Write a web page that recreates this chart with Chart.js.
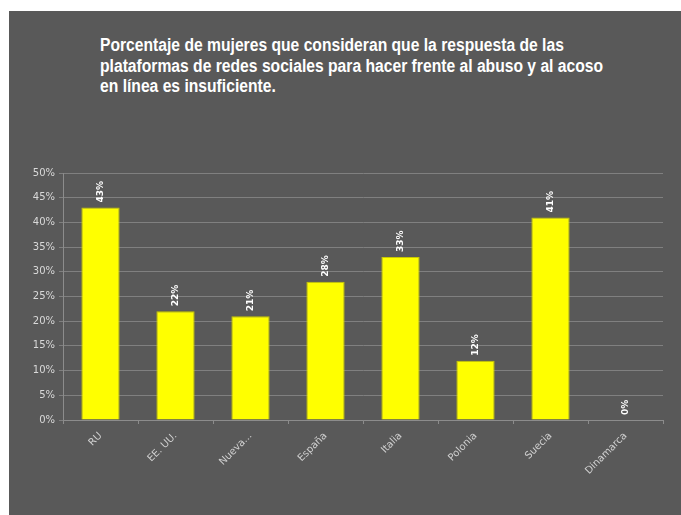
<!DOCTYPE html>
<html>
<head>
<meta charset="utf-8">
<script src="https://cdn.jsdelivr.net/npm/chart.js@4"></script>
<style>
  html, body { margin: 0; padding: 0; background: #ffffff; }
  #wrap { position: relative; width: 681px; height: 515px; }
  #panel { position: absolute; left: 9px; top: 11px; width: 672px; height: 504px; background: #595959; }
  #title {
    position: absolute; left: 100px; top: 35px; white-space: nowrap;
    font-family: "Liberation Sans Narrow", "Arial Narrow", "Liberation Sans", sans-serif;
    font-weight: bold; font-size: 18px; line-height: 20.5px; color: #ffffff;
    transform: scaleX(0.87); transform-origin: left top;
  }
  canvas { position: absolute; left: 0; top: 0; }
</style>
</head>
<body>
<div id="wrap">
  <div id="panel"></div>
  <div id="title">Porcentaje de mujeres que consideran que la respuesta de las<br>plataformas de redes sociales para hacer frente al abuso y al acoso<br>en línea es insuficiente.</div>
  <canvas id="myBarChart" width="681" height="515"></canvas>
</div>
<script>
// datos
const paises = ['RU', 'EE. UU.', 'Nueva...', 'España', 'Italia', 'Polonia', 'Suecia', 'Dinamarca'];
const porcentajes = [43, 22, 21, 28, 33, 12, 41, 0];
const ticksY = [0, 5, 10, 15, 20, 25, 30, 35, 40, 45, 50];

// etiquetas de valor giradas encima de cada barra
const etiquetasValor = {
    id: 'etiquetasValor',
    afterDatasetsDraw(chart) {
        const ctx = chart.ctx;
        const meta = chart.getDatasetMeta(0);
        ctx.save();
        ctx.fillStyle = '#ffffff';
        ctx.font = 'bold 9px "DejaVu Sans", sans-serif';
        ctx.textAlign = 'left';
        ctx.textBaseline = 'middle';
        meta.data.forEach((bar, i) => {
            ctx.save();
            ctx.translate(bar.x, bar.y - 5);
            ctx.rotate(-Math.PI / 2);
            ctx.fillText(porcentajes[i] + '%', 0, 0);
            ctx.restore();
        });
        ctx.restore();
    }
};

const ctx = document.getElementById('myBarChart').getContext('2d');
new Chart(ctx, {
    type: 'bar',
    data: {
        labels: paises,
        datasets: [{
            data: porcentajes,
            backgroundColor: '#ffff00',
            borderColor: '#c8c800',
            borderWidth: 1,
            barPercentage: 0.51,
            categoryPercentage: 1.0,
        }],
    },
    options: {
        responsive: false,
        animation: false,
        layout: { padding: { left: 20, right: 18, top: 173, bottom: 0 } },
        plugins: {
            legend: { display: false },
            tooltip: { enabled: false },
        },
        scales: {
            y: {
                min: 0,
                max: 50,
                afterFit: function(scale) { scale.width = 43; },
                afterBuildTicks: function(scale) {
                    scale.ticks = ticksY.map(v => ({ value: v }));
                },
                ticks: {
                    color: '#d9d9d9',
                    font: { family: '"DejaVu Sans", sans-serif', size: 10 },
                    padding: 4,
                    callback: v => v + '%',
                },
                grid: { color: '#808080', lineWidth: 1, tickLength: 4 },
                border: { color: '#8c8c8c' },
            },
            x: {
                afterFit: function(scale) { scale.height = 95; },
                ticks: {
                    color: '#d0d0d0',
                    font: { family: '"DejaVu Sans", sans-serif', size: 10 },
                    minRotation: 45,
                    maxRotation: 45,
                    autoSkip: false,
                    padding: 6,
                },
                grid: { drawOnChartArea: false, color: '#8c8c8c', tickLength: 4, offset: true },
                border: { color: '#8c8c8c' },
            },
        },
    },
    plugins: [etiquetasValor],
});
</script>
</body>
</html>
